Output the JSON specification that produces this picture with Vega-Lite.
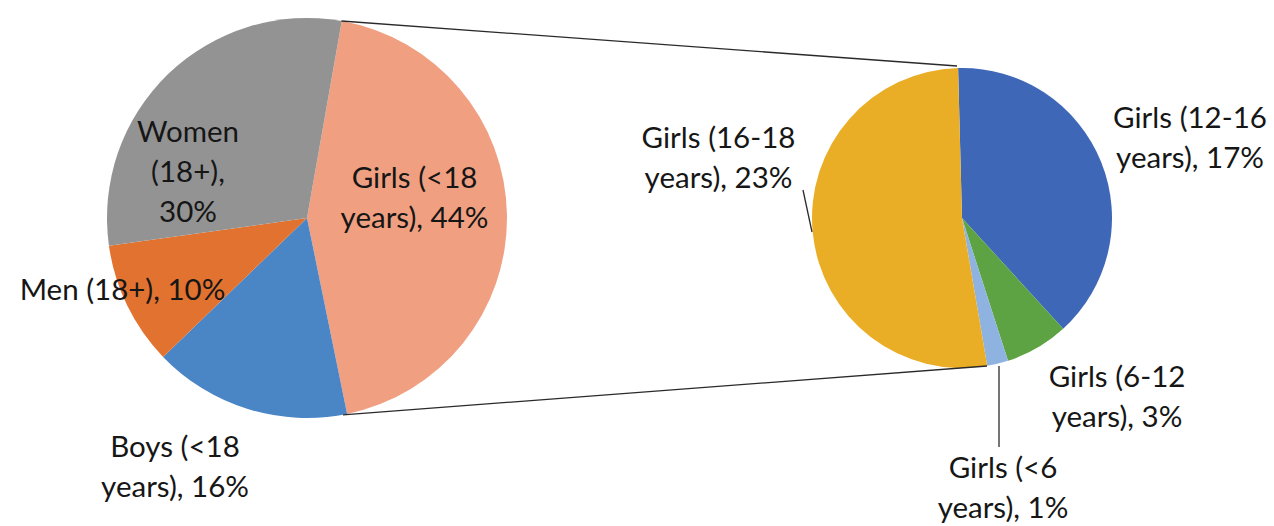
{
  "$schema": "https://vega.github.io/schema/vega-lite/v6.json",
  "width": 1274,
  "height": 526,
  "autosize": {"type": "fit", "contains": "padding"},
  "padding": 0,
  "background": "white",
  "config": {
    "view": {"stroke": null},
    "text": {"font": "Lato", "fontSize": 29.5, "lineHeight": 40, "color": "#161616", "align": "center", "baseline": "alphabetic"},
    "rule": {"color": "#2a2a2a", "strokeWidth": 1.3}
  },
  "data": {
    "values": [
      {"pie": "all", "category": "Girls (<18 years)", "percent": 44, "order": 1},
      {"pie": "all", "category": "Boys (<18 years)", "percent": 16, "order": 2},
      {"pie": "all", "category": "Men (18+)", "percent": 10, "order": 3},
      {"pie": "all", "category": "Women (18+)", "percent": 30, "order": 4},
      {"pie": "girls", "category": "Girls (12-16 years)", "percent": 17, "order": 1},
      {"pie": "girls", "category": "Girls (6-12 years)", "percent": 3, "order": 2},
      {"pie": "girls", "category": "Girls (<6 years)", "percent": 1, "order": 3},
      {"pie": "girls", "category": "Girls (16-18 years)", "percent": 23, "order": 4}
    ]
  },
  "layer": [
    {
      "transform": [{"filter": "datum.pie === 'all'"}],
      "mark": {"type": "arc", "outerRadius": 200},
      "encoding": {
        "theta": {"field": "percent", "type": "quantitative", "stack": true, "scale": {"range": [0.175, 6.458]}},
        "order": {"field": "order", "type": "quantitative"},
        "color": {
          "field": "category", "type": "nominal", "legend": null,
          "scale": {
            "domain": ["Girls (<18 years)", "Boys (<18 years)", "Men (18+)", "Women (18+)", "Girls (12-16 years)", "Girls (6-12 years)", "Girls (<6 years)", "Girls (16-18 years)"],
            "range": ["#F0A080", "#4A85C6", "#E2722F", "#939393", "#3F67B7", "#5EA343", "#8FB3E0", "#EAAE26"]
          }
        },
        "x": {"datum": 0, "type": "quantitative", "scale": {"domain": [-1.535, 4.835], "zero": false, "nice": false}, "axis": null},
        "y": {"datum": 0, "type": "quantitative", "scale": {"domain": [-1.54, 1.09], "zero": false, "nice": false}, "axis": null}
      }
    },
    {
      "transform": [{"filter": "datum.pie === 'girls'"}],
      "mark": {"type": "arc", "outerRadius": 150},
      "encoding": {
        "theta": {"field": "percent", "type": "quantitative", "stack": true, "scale": {"range": [-0.026, 6.257]}},
        "order": {"field": "order", "type": "quantitative"},
        "color": {"field": "category", "type": "nominal", "legend": null},
        "x": {"datum": 3.275, "type": "quantitative"},
        "y": {"datum": 0, "type": "quantitative"}
      }
    },
    {
      "data": {"values": [{}]},
      "mark": "rule",
      "encoding": {
        "x": {"datum": 0.172, "type": "quantitative"}, "y": {"datum": 0.985, "type": "quantitative"},
        "x2": {"datum": 3.25}, "y2": {"datum": 0.76}
      }
    },
    {
      "data": {"values": [{}]},
      "mark": "rule",
      "encoding": {
        "x": {"datum": 0.18, "type": "quantitative"}, "y": {"datum": -0.984, "type": "quantitative"},
        "x2": {"datum": 3.4}, "y2": {"datum": -0.74}
      }
    },
    {
      "data": {"values": [{}]},
      "mark": "rule",
      "encoding": {
        "x": {"datum": 2.48, "type": "quantitative"}, "y": {"datum": 0.14, "type": "quantitative"},
        "x2": {"datum": 2.525}, "y2": {"datum": -0.07}
      }
    },
    {
      "data": {"values": [{}]},
      "mark": "rule",
      "encoding": {
        "x": {"datum": 3.46, "type": "quantitative"}, "y": {"datum": -0.74, "type": "quantitative"},
        "x2": {"datum": 3.46}, "y2": {"datum": -1.145}
      }
    },
    {
      "transform": [
        {"filter": "datum.category === 'Women (18+)'"},
        {"calculate": "split(datum.category + ', ' + datum.percent + '%', ' ')", "as": "label"}
      ],
      "mark": "text",
      "encoding": {"text": {"field": "label"}, "x": {"datum": -0.595, "type": "quantitative"}, "y": {"datum": 0.38, "type": "quantitative"}}
    },
    {
      "transform": [
        {"filter": "datum.category === 'Men (18+)'"},
        {"calculate": "datum.category + ', ' + datum.percent + '%'", "as": "label"}
      ],
      "mark": "text",
      "encoding": {"text": {"field": "label"}, "x": {"datum": -0.9225, "type": "quantitative"}, "y": {"datum": -0.41, "type": "quantitative"}}
    },
    {
      "transform": [
        {"filter": "datum.category === 'Girls (<18 years)'"},
        {"calculate": "[slice(datum.category, 0, indexof(datum.category, ' years)')), 'years), ' + datum.percent + '%']", "as": "label"}
      ],
      "mark": "text",
      "encoding": {"text": {"field": "label"}, "x": {"datum": 0.5375, "type": "quantitative"}, "y": {"datum": 0.15, "type": "quantitative"}}
    },
    {
      "transform": [
        {"filter": "datum.category === 'Boys (<18 years)'"},
        {"calculate": "[slice(datum.category, 0, indexof(datum.category, ' years)')), 'years), ' + datum.percent + '%']", "as": "label"}
      ],
      "mark": "text",
      "encoding": {"text": {"field": "label"}, "x": {"datum": -0.66, "type": "quantitative"}, "y": {"datum": -1.195, "type": "quantitative"}}
    },
    {
      "transform": [
        {"filter": "datum.category === 'Girls (16-18 years)'"},
        {"calculate": "[slice(datum.category, 0, indexof(datum.category, ' years)')), 'years), ' + datum.percent + '%']", "as": "label"}
      ],
      "mark": "text",
      "encoding": {"text": {"field": "label"}, "x": {"datum": 2.0575, "type": "quantitative"}, "y": {"datum": 0.35, "type": "quantitative"}}
    },
    {
      "transform": [
        {"filter": "datum.category === 'Girls (12-16 years)'"},
        {"calculate": "[slice(datum.category, 0, indexof(datum.category, ' years)')), 'years), ' + datum.percent + '%']", "as": "label"}
      ],
      "mark": "text",
      "encoding": {"text": {"field": "label"}, "x": {"datum": 4.415, "type": "quantitative"}, "y": {"datum": 0.45, "type": "quantitative"}}
    },
    {
      "transform": [
        {"filter": "datum.category === 'Girls (6-12 years)'"},
        {"calculate": "[slice(datum.category, 0, indexof(datum.category, ' years)')), 'years), ' + datum.percent + '%']", "as": "label"}
      ],
      "mark": "text",
      "encoding": {"text": {"field": "label"}, "x": {"datum": 4.05, "type": "quantitative"}, "y": {"datum": -0.845, "type": "quantitative"}}
    },
    {
      "transform": [
        {"filter": "datum.category === 'Girls (<6 years)'"},
        {"calculate": "[slice(datum.category, 0, indexof(datum.category, ' years)')), 'years), ' + datum.percent + '%']", "as": "label"}
      ],
      "mark": "text",
      "encoding": {"text": {"field": "label"}, "x": {"datum": 3.48, "type": "quantitative"}, "y": {"datum": -1.3, "type": "quantitative"}}
    }
  ],
  "resolve": {"scale": {"theta": "independent"}}
}
